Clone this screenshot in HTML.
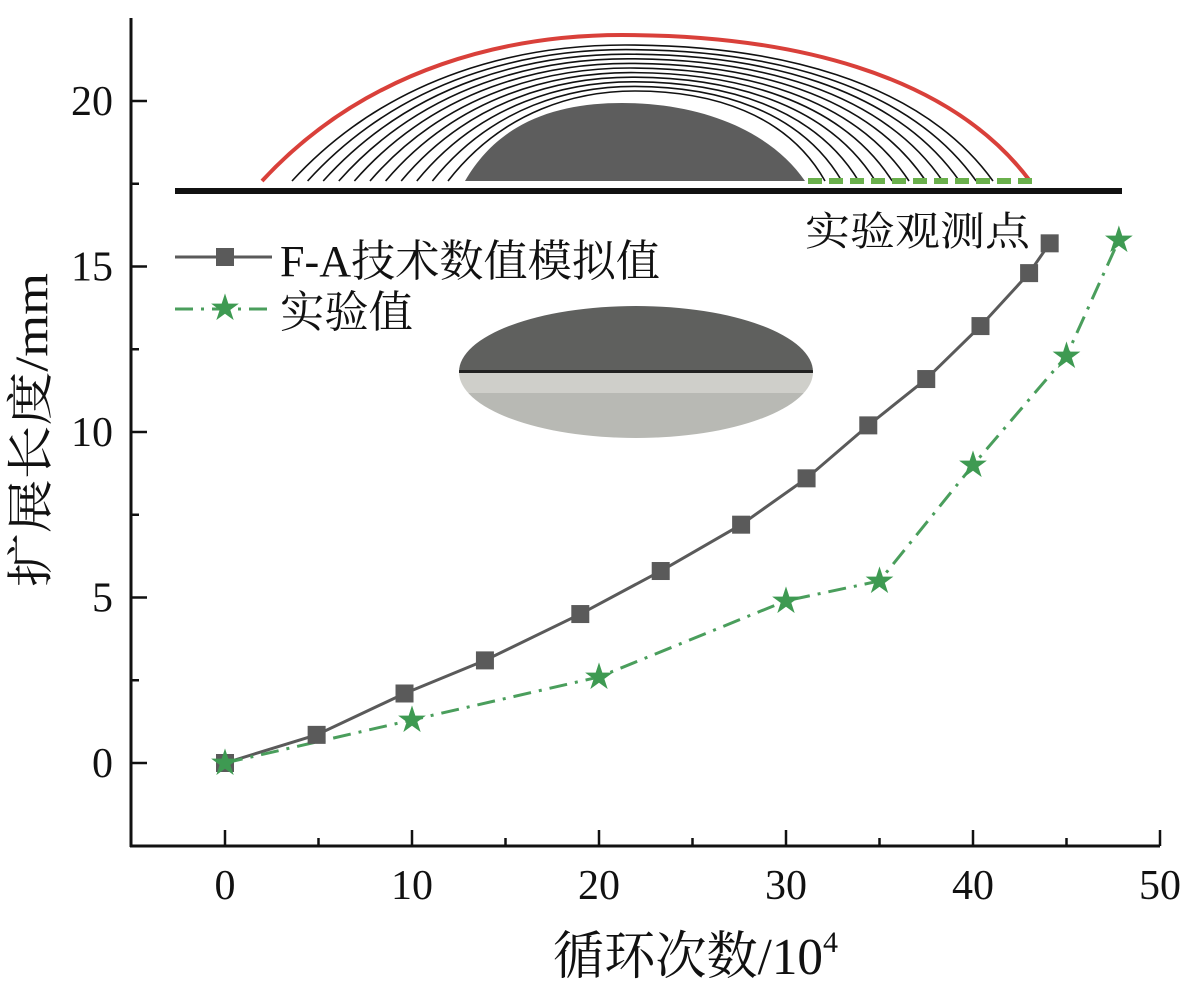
<!DOCTYPE html>
<html><head><meta charset="utf-8">
<style>
html,body{margin:0;padding:0;background:#fff;}
svg{display:block;font-family:"Liberation Serif","Noto Serif CJK SC",serif;}
</style></head>
<body>
<svg id="chart" width="1192" height="986" viewBox="0 0 1192 986">
  <defs>
    <clipPath id="ellClip"><ellipse cx="636" cy="372" rx="177" ry="66"/></clipPath>
  </defs>
  <g id="diagram">
    <g id="arcs"></g>
    <path d="M465,181 C500,120 560,103 622,103 C700,103 770,130 805,181 Z" fill="#5d5d5d"/>
    <line x1="808" y1="181" x2="1032" y2="181" stroke="#6ab04c" stroke-width="6" stroke-dasharray="14 7"/>
    <rect x="175" y="188" width="947" height="6" fill="#111"/>
    <text x="805" y="245" font-size="40" textLength="225" lengthAdjust="spacingAndGlyphs" fill="#111">实验观测点</text>
  </g>
  <g clip-path="url(#ellClip)">
    <rect x="459" y="306" width="355" height="66" fill="#5f605e"/>
    <rect x="459" y="370" width="355" height="3" fill="#222"/>
    <rect x="459" y="373" width="355" height="20" fill="#cfcfca"/>
    <rect x="459" y="393" width="355" height="45" fill="#b8b9b4"/>
  </g>
  <g id="axes"></g>
  <g id="series"></g>
  <g>
    <g>
      <line x1="175" y1="257" x2="272" y2="257" stroke="#5a5a5a" stroke-width="3"/>
      <rect x="216" y="248" width="18" height="18" fill="#5a5a5a"/>
      <text x="280" y="276" font-size="44" textLength="380" lengthAdjust="spacingAndGlyphs" fill="#111">F-A技术数值模拟值</text>
    </g>
    <g>
      <line x1="175" y1="309" x2="272" y2="309" stroke="#4a9e5c" stroke-width="3" stroke-dasharray="18 8 3 8"/>
      <text x="225" y="318" font-size="30" fill="#3e9a52" text-anchor="middle">★</text>
      <text x="280" y="327" font-size="44" textLength="133" lengthAdjust="spacingAndGlyphs" fill="#111">实验值</text>
    </g>
  </g>
  <text transform="translate(47,430) rotate(-90)" text-anchor="middle" font-size="47" textLength="314" lengthAdjust="spacingAndGlyphs" fill="#111">扩展长度/mm</text>
  <text x="553" y="974" font-size="52" fill="#111"><tspan textLength="270" lengthAdjust="spacingAndGlyphs">循环次数/10</tspan><tspan font-size="30" dy="-22">4</tspan></text>
</svg>
<script>
const simX = [0,4.9,9.6,13.9,19,23.3,27.6,31.1,34.4,37.5,40.4,43,44.1];
const simY = [0,0.85,2.1,3.1,4.5,5.8,7.2,8.6,10.2,11.6,13.2,14.8,15.7];
const expX = [0,10,20,30,35,40,45,47.8];
const expY = [0,1.3,2.6,4.9,5.5,9,12.3,15.8];
const xTicks = [0,10,20,30,40,50];
const yTicks = [0,5,10,15,20];
const xMinor = [5,15,25,35,45];
const yMinor = [-2.5,2.5,7.5,12.5,17.5];

const NS = "http://www.w3.org/2000/svg";
function xs(v){return 225 + v*18.7;}
function ys(v){return 763 - v*33.1;}
function mk(tag, attrs, parent){const e=document.createElementNS(NS,tag);for(const k in attrs)e.setAttribute(k,attrs[k]);parent.appendChild(e);return e;}

const arcs=document.getElementById('arcs');
function arcPath(L,R,T,P){
  return `M${L},181 C${L+(P-L)*0.3},${T+(181-T)*0.2} ${L+(P-L)*0.7},${T} ${P},${T} C${P+(R-P)*0.4},${T} ${P+(R-P)*0.8},${T+(181-T)*0.25} ${R},181`;
}
for(let i=0;i<11;i++){
  const L=292+i*15.6, R=993-i*16.8, T=45+i*4.6, P=625+i*1;
  const p=mk('path',{d:arcPath(L,R,T,P),fill:'none',stroke:'#111','stroke-width':1.6},arcs);
  
  
}
const red=mk('path',{d:arcPath(262,1030,35,622),fill:'none',stroke:'#d9403a','stroke-width':4},arcs);



const ax=document.getElementById('axes');
const xl=mk('line',{x1:130,y1:846,x2:1160,y2:846,stroke:'#111','stroke-width':3},ax);


const yl=mk('line',{x1:131,y1:18,x2:131,y2:847,stroke:'#111','stroke-width':3},ax);


xTicks.forEach(v=>{
  const t=mk('line',{x1:xs(v),y1:846,x2:xs(v),y2:830,stroke:'#111','stroke-width':2.5},ax);
  
  
  const l=mk('text',{x:xs(v),y:899,'text-anchor':'middle','font-size':42,fill:'#111'},ax);
  l.textContent=v;
  
  
});
xMinor.forEach(v=>{
  const t=mk('line',{x1:xs(v),y1:846,x2:xs(v),y2:838,stroke:'#111','stroke-width':2.5},ax);
  
  
});
yTicks.forEach(v=>{
  const t=mk('line',{x1:131,y1:ys(v),x2:147,y2:ys(v),stroke:'#111','stroke-width':2.5},ax);
  
  
  const l=mk('text',{x:113,y:ys(v)+14,'text-anchor':'end','font-size':42,fill:'#111'},ax);
  l.textContent=v;
  
  
});
yMinor.forEach(v=>{
  const t=mk('line',{x1:131,y1:ys(v),x2:139,y2:ys(v),stroke:'#111','stroke-width':2.5},ax);
  
  
});

const sg=document.getElementById('series');
const sp=mk('polyline',{points:simX.map((x,i)=>xs(x)+','+ys(simY[i])).join(' '),fill:'none',stroke:'#5a5a5a','stroke-width':3},sg);


const ep=mk('polyline',{points:expX.map((x,i)=>xs(x)+','+ys(expY[i])).join(' '),fill:'none',stroke:'#4a9e5c','stroke-width':3,'stroke-dasharray':'18 8 3 8'},sg);


simX.forEach((x,i)=>{
  const r=mk('rect',{x:xs(x)-9,y:ys(simY[i])-9,width:18,height:18,fill:'#5a5a5a'},sg);
  
  
});
expX.forEach((x,i)=>{
  const t=mk('text',{x:xs(x),y:ys(expY[i])+10,'text-anchor':'middle','font-size':30,fill:'#3e9a52'},sg);
  t.textContent='★';
  
  
});
</script>
</body></html>
